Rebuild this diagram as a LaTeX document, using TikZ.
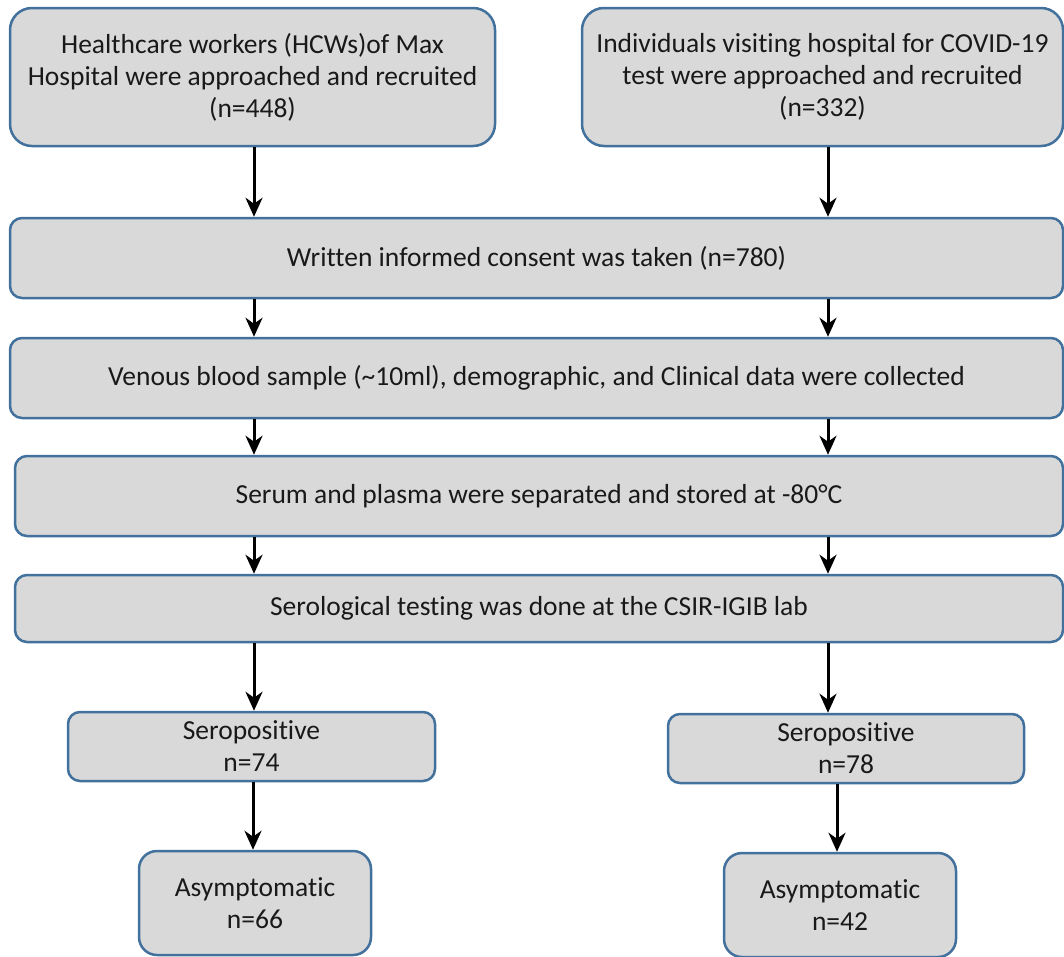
\documentclass[tikz,border=0pt]{standalone}
\usepackage{fontspec}
\setmainfont{Carlito}[Ligatures=NoCommon]
\usetikzlibrary{arrows.meta}
\definecolor{boxfill}{HTML}{D9D9D9}
\definecolor{boxline}{HTML}{41719C}
\tikzset{
  box/.style={draw=boxline, fill=boxfill, line width=2.5pt, rounded corners=12pt,
    align=center, inner sep=0pt, font=\fontsize{27.5}{32}\selectfont, text=black!90},
  bigbox/.style={box, rounded corners=22pt},
  arr/.style={line width=3pt, -{Stealth[length=19pt,width=17pt,inset=6pt]}}
}
\begin{document}
\begin{tikzpicture}[x=1pt,y=-1pt]
\useasboundingbox (0,0) rectangle (1064,956);
\clip (0,0) rectangle (1064,956);
\fill[white] (0,0) rectangle (1064,956);
\node[bigbox, minimum width=485pt, minimum height=138pt] (hcw) at (252.5,77)
  {Healthcare workers (HCWs)of Max\\Hospital were approached and recruited\\(n=448)};
\node[bigbox, minimum width=481pt, minimum height=138pt] (ind) at (822.5,77)
  {Individuals visiting hospital for COVID-19\\test were approached and recruited\\(n=332)};
\node[box, minimum width=1053pt, minimum height=80pt] (consent) at (536.5,258)
  {Written informed consent was taken (n=780)};
\node[box, minimum width=1053pt, minimum height=80pt] (blood) at (536.5,378)
  {Venous blood sample (\textasciitilde10ml), demographic, and Clinical data were collected};
\node[box, minimum width=1048pt, minimum height=80pt] (serum) at (539,496)
  {Serum and plasma were separated and stored at -80°C};
\node[box, minimum width=1048pt, minimum height=67pt] (test) at (539,608.5)
  {Serological testing was done at the CSIR-IGIB lab};
\node[box, minimum width=367pt, minimum height=69pt] (posL) at (251.5,746.5)
  {Seropositive\\n=74};
\node[box, minimum width=356pt, minimum height=69pt] (posR) at (846,748.5)
  {Seropositive\\n=78};
\node[bigbox, rounded corners=18pt, minimum width=232pt, minimum height=104pt] (asyL) at (255,903)
  {Asymptomatic\\n=66};
\node[bigbox, rounded corners=18pt, minimum width=232pt, minimum height=104pt] (asyR) at (840,905)
  {Asymptomatic\\n=42};
\coordinate (L) at (254,0);
\coordinate (R) at (828,0);
\coordinate (L2) at (253,0);
\coordinate (R2) at (837,0);
\draw[arr] (hcw.south -| L) -- (consent.north -| L);
\draw[arr] (ind.south -| R) -- (consent.north -| R);
\draw[arr] (consent.south -| L) -- (blood.north -| L);
\draw[arr] (consent.south -| R) -- (blood.north -| R);
\draw[arr] (blood.south -| L) -- (serum.north -| L);
\draw[arr] (blood.south -| R) -- (serum.north -| R);
\draw[arr] (serum.south -| L) -- (test.north -| L);
\draw[arr] (serum.south -| R) -- (test.north -| R);
\draw[arr] (test.south -| L) -- (posL.north -| L);
\draw[arr] (test.south -| R) -- (posR.north -| R);
\draw[arr] (posL.south -| L2) -- (asyL.north -| L2);
\draw[arr] (posR.south -| R2) -- (asyR.north -| R2);
\end{tikzpicture}
\end{document}
